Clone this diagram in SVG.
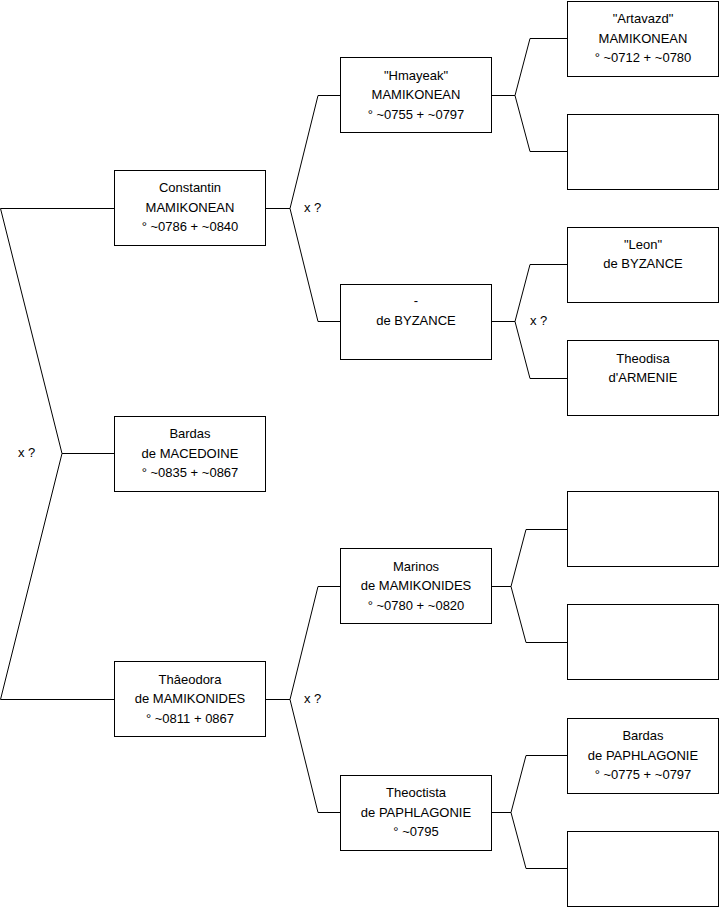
<svg xmlns="http://www.w3.org/2000/svg" width="719" height="908" viewBox="0 0 719 908">
<style>
.box{fill:#fff;stroke:#000;stroke-width:1}
.t{font-family:"Liberation Sans",Arial,sans-serif;font-size:13px;fill:#000;text-anchor:middle}
.lbl{font-family:"Liberation Sans",Arial,sans-serif;font-size:13px;fill:#000}
.c{fill:none;stroke:#000;stroke-width:1}
</style>
<rect width="719" height="908" fill="#fff"/>
<g id="connectors">
<polyline class="c" points="114,208.5 0.5,208.5 62,453.5 0.5,699.5 114,699.5"/>
<polyline class="c" points="62,453.5 114,453.5"/>
<text class="lbl" x="18" y="457">x ?</text>
<polyline class="c" points="265,208.5 290,208.5"/>
<polyline class="c" points="340,95.5 318,95.5 290,208.5 318,321.5 340,321.5"/>
<text class="lbl" x="304" y="212">x ?</text>
<polyline class="c" points="491,95.5 515,95.5"/>
<polyline class="c" points="567,38.5 530,38.5 515,95.5 530,151.5 567,151.5"/>
<polyline class="c" points="491,321.5 515,321.5"/>
<polyline class="c" points="567,264.5 530,264.5 515,321.5 530,378.5 567,378.5"/>
<text class="lbl" x="530" y="325">x ?</text>
<polyline class="c" points="265,699.5 290,699.5"/>
<polyline class="c" points="340,586.5 318,586.5 290,699.5 318,812.5 340,812.5"/>
<text class="lbl" x="304" y="703">x ?</text>
<polyline class="c" points="491,586.5 511,586.5"/>
<polyline class="c" points="567,529.5 526,529.5 511,586.5 526,642.5 567,642.5"/>
<polyline class="c" points="491,812.5 511,812.5"/>
<polyline class="c" points="567,755.5 526,755.5 511,812.5 526,868.5 567,868.5"/>
</g>
<g id="constantin">
<rect class="box" x="114.5" y="170.5" width="151" height="75"/>
<text class="t" x="190" y="192">Constantin</text>
<text class="t" x="190" y="212">MAMIKONEAN</text>
<text class="t" x="190" y="231">° ~0786 + ~0840</text>
</g>
<g id="bardas-macedoine">
<rect class="box" x="114.5" y="416.5" width="151" height="75"/>
<text class="t" x="190" y="438">Bardas</text>
<text class="t" x="190" y="458">de MACEDOINE</text>
<text class="t" x="190" y="477">° ~0835 + ~0867</text>
</g>
<g id="theodora">
<rect class="box" x="114.5" y="661.5" width="151" height="75"/>
<text class="t" x="190" y="684">Thâeodora</text>
<text class="t" x="190" y="703">de MAMIKONIDES</text>
<text class="t" x="190" y="723">° ~0811 + 0867</text>
</g>
<g id="hmayeak">
<rect class="box" x="340.5" y="57.5" width="151" height="75"/>
<text class="t" x="416" y="80">"Hmayeak"</text>
<text class="t" x="416" y="99">MAMIKONEAN</text>
<text class="t" x="416" y="119">° ~0755 + ~0797</text>
</g>
<g id="byzance">
<rect class="box" x="340.5" y="284.5" width="151" height="75"/>
<text class="t" x="416" y="305">-</text>
<text class="t" x="416" y="325">de BYZANCE</text>
</g>
<g id="marinos">
<rect class="box" x="340.5" y="548.5" width="151" height="75"/>
<text class="t" x="416" y="571">Marinos</text>
<text class="t" x="416" y="590">de MAMIKONIDES</text>
<text class="t" x="416" y="610">° ~0780 + ~0820</text>
</g>
<g id="theoctista">
<rect class="box" x="340.5" y="775.5" width="151" height="75"/>
<text class="t" x="416" y="797">Theoctista</text>
<text class="t" x="416" y="817">de PAPHLAGONIE</text>
<text class="t" x="416" y="836">° ~0795</text>
</g>
<g id="artavazd">
<rect class="box" x="567.5" y="1.5" width="151" height="75"/>
<text class="t" x="643" y="23">"Artavazd"</text>
<text class="t" x="643" y="43">MAMIKONEAN</text>
<text class="t" x="643" y="62">° ~0712 + ~0780</text>
</g>
<g id="empty1">
<rect class="box" x="567.5" y="114.5" width="151" height="75"/>
</g>
<g id="leon">
<rect class="box" x="567.5" y="227.5" width="151" height="75"/>
<text class="t" x="643" y="249">"Leon"</text>
<text class="t" x="643" y="268">de BYZANCE</text>
</g>
<g id="theodisa">
<rect class="box" x="567.5" y="340.5" width="151" height="75"/>
<text class="t" x="643" y="363">Theodisa</text>
<text class="t" x="643" y="382">d'ARMENIE</text>
</g>
<g id="empty2">
<rect class="box" x="567.5" y="491.5" width="151" height="75"/>
</g>
<g id="empty3">
<rect class="box" x="567.5" y="604.5" width="151" height="75"/>
</g>
<g id="bardas-paphlagonie">
<rect class="box" x="567.5" y="718.5" width="151" height="75"/>
<text class="t" x="643" y="740">Bardas</text>
<text class="t" x="643" y="760">de PAPHLAGONIE</text>
<text class="t" x="643" y="779">° ~0775 + ~0797</text>
</g>
<g id="empty4">
<rect class="box" x="567.5" y="831.5" width="151" height="75"/>
</g>
</svg>
